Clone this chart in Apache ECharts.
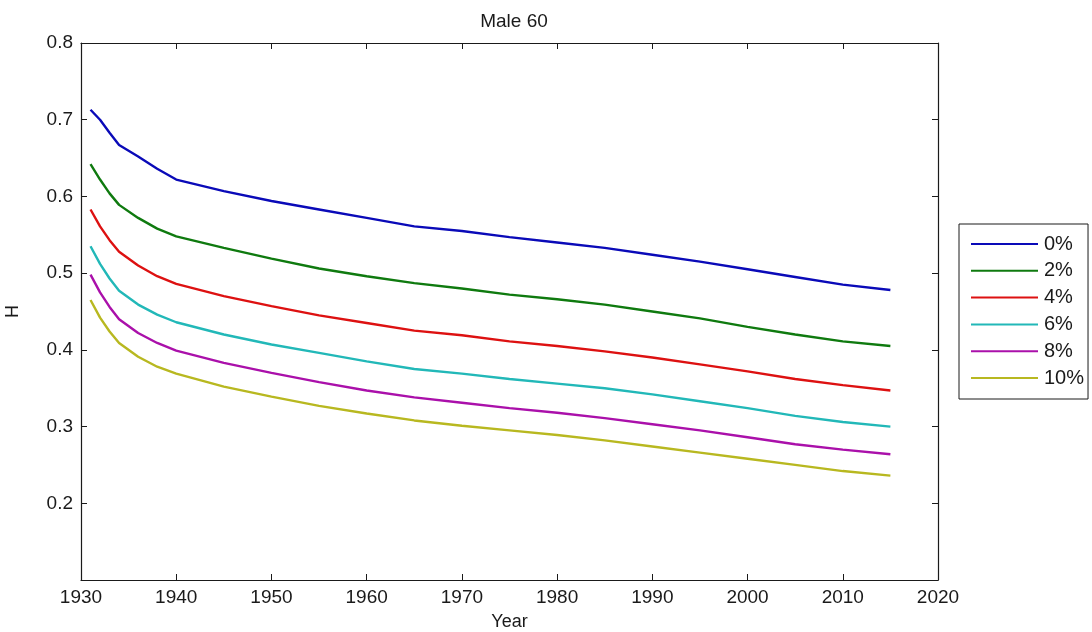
<!DOCTYPE html>
<html>
<head>
<meta charset="utf-8">
<title>Male 60</title>
<script src="https://cdn.jsdelivr.net/npm/echarts@6/dist/echarts.min.js"></script>
<style>
  html, body { margin: 0; padding: 0; background: #fff; }
  #chart { width: 1092px; height: 632px; }
</style>
</head>
<body>
<div id="chart"></div>
<script>
  // values
  const years = [1931, 1932, 1933, 1934, 1936, 1938, 1940, 1945, 1950, 1955, 1960,
    1965, 1970, 1975, 1980, 1985, 1990, 1995, 2000, 2005, 2010, 2015];

  const rate0 = [0.713, 0.700, 0.683, 0.667, 0.652, 0.636, 0.622, 0.607, 0.594, 0.583, 0.572,
    0.561, 0.555, 0.547, 0.540, 0.533, 0.524, 0.515, 0.505, 0.495, 0.485, 0.478];
  const rate2 = [0.642, 0.622, 0.604, 0.589, 0.572, 0.558, 0.548, 0.533, 0.519, 0.506, 0.496,
    0.487, 0.480, 0.472, 0.466, 0.459, 0.450, 0.441, 0.430, 0.420, 0.411, 0.405];
  const rate4 = [0.583, 0.561, 0.543, 0.528, 0.510, 0.496, 0.486, 0.470, 0.457, 0.445, 0.435,
    0.425, 0.419, 0.411, 0.405, 0.398, 0.390, 0.381, 0.372, 0.362, 0.354, 0.347];
  const rate6 = [0.535, 0.512, 0.493, 0.477, 0.459, 0.446, 0.436, 0.420, 0.407, 0.396, 0.385,
    0.375, 0.369, 0.362, 0.356, 0.350, 0.342, 0.333, 0.324, 0.314, 0.306, 0.300];
  const rate8 = [0.498, 0.475, 0.456, 0.440, 0.422, 0.409, 0.399, 0.383, 0.370, 0.358, 0.347,
    0.338, 0.331, 0.324, 0.318, 0.311, 0.303, 0.295, 0.286, 0.277, 0.270, 0.264];
  const rate10 = [0.465, 0.442, 0.424, 0.409, 0.391, 0.378, 0.369, 0.352, 0.339, 0.327, 0.317,
    0.308, 0.301, 0.295, 0.289, 0.282, 0.274, 0.266, 0.258, 0.250, 0.242, 0.236];

  const seriesNames = ["0%", "2%", "4%", "6%", "8%", "10%"];
  const seriesValues = [rate0, rate2, rate4, rate6, rate8, rate10];
  const colors = ["#0a0ab8", "#0f7a0f", "#dd1111", "#22b8b8", "#aa10aa", "#b8b820"];

  const FONT = "'Liberation Sans', Arial, sans-serif";
  const ink = "#1a1a1a";

  function xAxisDef(showLabels, position) {
    return {
      type: "value",
      position: position,
      min: 1930,
      max: 2020,
      interval: 10,
      name: showLabels ? "Year" : "",
      nameLocation: "middle",
      nameGap: 33,
      nameTextStyle: { color: ink, fontFamily: FONT, fontSize: 18 },
      axisLine: { show: true, onZero: false, lineStyle: { color: ink, width: 1.2 } },
      axisTick: { show: true, inside: true, length: 6, lineStyle: { color: ink } },
      axisLabel: {
        show: showLabels,
        color: ink,
        fontFamily: FONT,
        fontSize: 19,
        margin: 8,
        formatter: (v) => String(v)
      },
      splitLine: { show: false }
    };
  }

  function yAxisDef(showLabels, position) {
    return {
      type: "value",
      position: position,
      min: 0.1,
      max: 0.8,
      interval: 0.1,
      name: showLabels ? "H" : "",
      nameLocation: "middle",
      nameGap: 59,
      nameRotate: 90,
      nameTextStyle: { color: ink, fontFamily: FONT, fontSize: 18 },
      axisLine: { show: true, onZero: false, lineStyle: { color: ink, width: 1.2 } },
      axisTick: { show: true, inside: true, length: 6, lineStyle: { color: ink } },
      axisLabel: {
        show: showLabels,
        color: ink,
        fontFamily: FONT,
        fontSize: 19,
        margin: 8,
        formatter: (v) => (Math.abs(v - 0.1) < 1e-6 ? "" : v.toFixed(1))
      },
      splitLine: { show: false }
    };
  }

  const chart = echarts.init(document.getElementById("chart"), null, { renderer: "canvas" });

  chart.setOption({
    animation: false,
    backgroundColor: "#ffffff",
    color: colors,
    title: {
      text: "Male 60",
      left: 509,
      textAlign: "center",
      top: 7,
      textStyle: { color: ink, fontFamily: FONT, fontSize: 19, fontWeight: "normal" }
    },
    grid: { left: 81, top: 43, right: 154, bottom: 52, outerBoundsMode: "none", containLabel: false },
    xAxis: [xAxisDef(true, "bottom"), xAxisDef(false, "top")],
    yAxis: [yAxisDef(true, "left"), yAxisDef(false, "right")],
    legend: {
      orient: "vertical",
      left: 959,
      top: 224,
      padding: [10, 4, 11, 12],
      itemGap: 6.8,
      itemWidth: 67,
      itemHeight: 2,
      icon: "rect",
      backgroundColor: "#ffffff",
      borderColor: ink,
      borderWidth: 1,
      textStyle: { color: ink, fontFamily: FONT, fontSize: 20, padding: [0, 0, 0, 1] },
      data: seriesNames
    },
    series: seriesNames.map((name, i) => ({
      name: name,
      type: "line",
      xAxisIndex: 0,
      yAxisIndex: 0,
      symbol: "none",
      smooth: false,
      lineStyle: { width: 2.4, color: colors[i] },
      itemStyle: { color: colors[i] },
      data: years.map((y, k) => [y, seriesValues[i][k]])
    }))
  });
</script>
</body>
</html>
